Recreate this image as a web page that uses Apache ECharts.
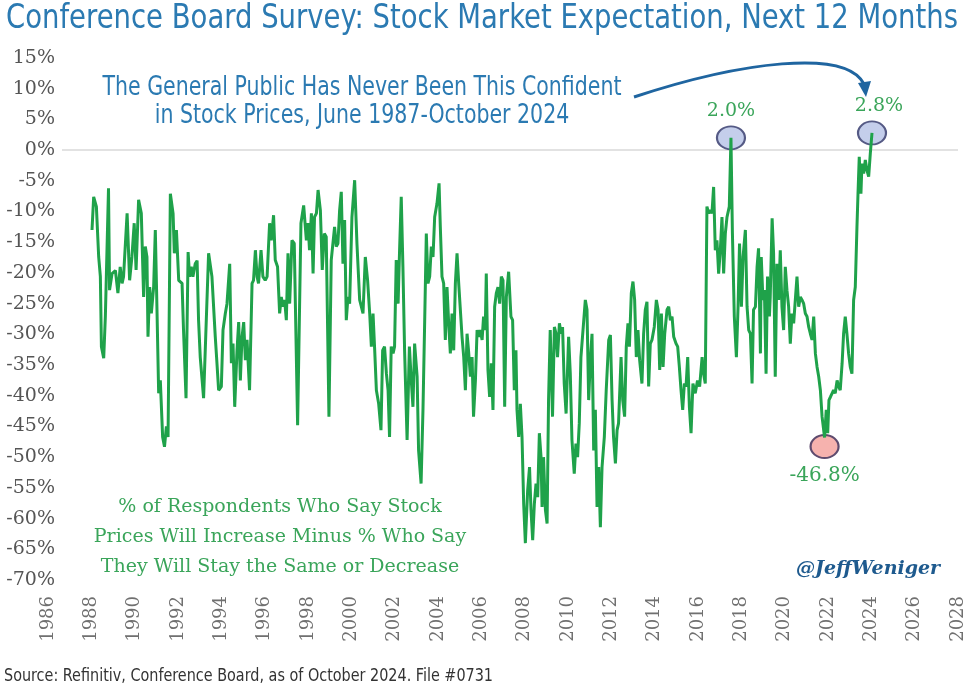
<!DOCTYPE html>
<html><head><meta charset="utf-8">
<script src="https://cdn.jsdelivr.net/npm/echarts@6/dist/echarts.min.js"></script>
<style>html,body{margin:0;padding:0;background:#fff}#c{width:975px;height:686px}</style>
</head><body><div id="c"></div>
<script>
// Survey month (decimal year), June 1987 - October 2024
const dates = [1987.42,1987.50,1987.63,1987.74,1987.82,1987.87,1987.98,1988.06,1988.21,1988.26,1988.38,1988.54,1988.66,1988.77,1988.86,1988.93,1989.10,1989.22,1989.33,1989.44,1989.53,1989.65,1989.78,1989.89,1989.97,1990.05,1990.10,1990.18,1990.26,1990.37,1990.45,1990.53,1990.61,1990.69,1990.80,1990.89,1990.98,1991.06,1991.17,1991.30,1991.36,1991.46,1991.57,1991.73,1991.80,1991.92,1992.02,1992.09,1992.17,1992.25,1992.36,1992.45,1992.52,1992.60,1992.76,1992.84,1993.00,1993.16,1993.32,1993.40,1993.48,1993.61,1993.69,1993.80,1993.88,1994.01,1994.09,1994.17,1994.25,1994.36,1994.44,1994.52,1994.60,1994.68,1994.76,1994.84,1994.96,1995.08,1995.15,1995.24,1995.32,1995.39,1995.51,1995.60,1995.71,1995.80,1995.92,1996.00,1996.11,1996.19,1996.30,1996.40,1996.48,1996.56,1996.64,1996.72,1996.80,1996.88,1996.99,1997.10,1997.26,1997.42,1997.55,1997.68,1997.76,1997.83,1997.92,1998.00,1998.07,1998.16,1998.24,1998.35,1998.44,1998.54,1998.63,1998.76,1998.87,1998.95,1999.03,1999.11,1999.19,1999.27,1999.35,1999.43,1999.51,1999.59,1999.67,1999.75,1999.86,1999.99,2000.10,2000.23,2000.39,2000.50,2000.61,2000.71,2000.79,2000.87,2000.95,2001.03,2001.14,2001.25,2001.33,2001.42,2001.51,2001.59,2001.66,2001.74,2001.83,2001.90,2001.98,2002.07,2002.14,2002.22,2002.30,2002.38,2002.50,2002.61,2002.70,2002.78,2002.86,2002.98,2003.05,2003.17,2003.26,2003.34,2003.42,2003.50,2003.58,2003.66,2003.74,2003.82,2003.93,2004.03,2004.09,2004.17,2004.25,2004.33,2004.41,2004.49,2004.57,2004.65,2004.73,2004.81,2004.89,2004.97,2005.05,2005.13,2005.21,2005.29,2005.37,2005.44,2005.53,2005.61,2005.68,2005.77,2005.85,2005.92,2006.00,2006.09,2006.16,2006.24,2006.29,2006.37,2006.45,2006.53,2006.61,2006.69,2006.77,2006.85,2006.93,2007.01,2007.09,2007.17,2007.25,2007.36,2007.47,2007.55,2007.63,2007.71,2007.76,2007.84,2007.92,2008.00,2008.08,2008.16,2008.27,2008.36,2008.43,2008.51,2008.59,2008.67,2008.75,2008.83,2008.91,2008.96,2009.03,2009.12,2009.20,2009.27,2009.35,2009.46,2009.55,2009.63,2009.70,2009.79,2009.87,2009.94,2010.02,2010.11,2010.23,2010.31,2010.39,2010.50,2010.58,2010.66,2010.74,2010.82,2010.90,2011.03,2011.11,2011.19,2011.27,2011.35,2011.43,2011.51,2011.59,2011.67,2011.75,2011.83,2011.94,2012.03,2012.15,2012.23,2012.31,2012.38,2012.47,2012.55,2012.62,2012.74,2012.82,2012.91,2012.99,2013.07,2013.14,2013.23,2013.31,2013.39,2013.47,2013.55,2013.63,2013.74,2013.82,2013.90,2013.98,2014.06,2014.14,2014.22,2014.33,2014.43,2014.51,2014.59,2014.67,2014.75,2014.83,2014.94,2015.02,2015.10,2015.18,2015.26,2015.37,2015.45,2015.53,2015.61,2015.69,2015.77,2015.85,2015.93,2016.01,2016.09,2016.18,2016.29,2016.40,2016.50,2016.62,2016.69,2016.77,2016.85,2016.93,2017.01,2017.09,2017.17,2017.25,2017.33,2017.41,2017.49,2017.57,2017.65,2017.73,2017.81,2017.92,2018.00,2018.07,2018.16,2018.26,2018.34,2018.41,2018.50,2018.58,2018.69,2018.77,2018.85,2018.93,2019.01,2019.08,2019.17,2019.25,2019.32,2019.41,2019.45,2019.53,2019.60,2019.68,2019.75,2019.84,2019.88,2019.97,2020.04,2020.12,2020.20,2020.28,2020.36,2020.44,2020.52,2020.60,2020.68,2020.76,2020.84,2020.92,2021.00,2021.08,2021.16,2021.24,2021.32,2021.40,2021.48,2021.56,2021.64,2021.72,2021.80,2021.88,2021.96,2022.04,2022.12,2022.20,2022.28,2022.36,2022.48,2022.56,2022.63,2022.69,2022.76,2022.84,2022.91,2022.99,2023.08,2023.15,2023.23,2023.32,2023.39,2023.47,2023.55,2023.63,2023.71,2023.79,2023.87,2023.95,2024.03,2024.08,2024.14,2024.22,2024.27,2024.35,2024.43,2024.51,2024.59,2024.67,2024.75];

// % saying prices will increase minus % saying same or decrease
const values = [
-13.0,-7.6,-9.2,-17.4,-20.6,-32.0,-33.9,-27.0,-6.2,-22.8,
-20.1,-19.6,-23.3,-19.0,-21.7,-20.6,-10.3,-21.2,-17.4,-11.9,
-19.5,-8.1,-10.3,-23.9,-15.7,-17.4,-30.4,-22.3,-26.6,-22.3,
-13.0,-26.0,-39.6,-37.5,-46.7,-48.3,-45.0,-46.7,-7.1,-10.3,
-16.8,-13.0,-21.2,-21.7,-29.3,-40.4,-16.6,-20.6,-19.0,-20.6,
-18.5,-18.0,-27.7,-33.7,-40.4,-32.6,-16.8,-20.6,-30.4,-34.7,
-39.1,-38.5,-29.3,-26.6,-25.0,-18.5,-34.7,-31.5,-41.8,-32.6,
-28.0,-37.5,-30.4,-28.0,-34.2,-30.9,-39.1,-21.7,-21.2,-16.3,
-20.6,-21.7,-16.3,-20.6,-21.2,-20.6,-11.9,-14.7,-10.6,-17.9,
-19.0,-26.6,-23.9,-25.5,-24.4,-27.7,-16.8,-25.0,-14.7,-15.2,
-44.8,-11.9,-9.0,-14.7,-11.9,-16.3,-10.3,-20.1,-10.9,-10.3,
-6.5,-9.8,-19.5,-13.6,-14.1,-43.4,-17.9,-15.2,-12.5,-15.7,
-15.2,-9.8,-6.8,-18.5,-11.4,-27.7,-23.9,-25.0,-10.9,-4.9,
-15.2,-24.4,-26.6,-17.4,-21.2,-26.6,-32.0,-26.6,-32.6,-39.1,
-41.3,-45.6,-32.6,-32.0,-36.4,-39.1,-46.7,-32.0,-33.1,-32.0,
-17.9,-25.0,-16.3,-7.6,-19.0,-32.6,-47.2,-32.0,-37.5,-41.8,
-31.5,-36.9,-48.9,-54.3,-42.3,-28.2,-13.6,-21.7,-20.6,-15.7,
-17.4,-10.9,-8.7,-5.4,-12.5,-20.6,-21.7,-30.9,-22.3,-28.2,
-33.1,-26.6,-32.6,-21.7,-16.8,-21.7,-21.7,-30.4,-33.7,-39.1,
-29.9,-32.6,-36.9,-33.7,-43.4,-37.5,-29.3,-30.4,-29.3,-30.9,
-27.1,-29.3,-20.1,-35.8,-40.2,-34.7,-42.3,-25.5,-23.3,-22.3,
-25.0,-20.6,-21.2,-41.8,-23.9,-19.8,-27.1,-27.7,-39.1,-32.6,
-42.3,-46.7,-41.3,-46.7,-57.6,-64.0,-55.4,-51.6,-58.6,-63.5,
-57.6,-54.3,-56.5,-46.1,-50.0,-58.1,-50.0,-58.6,-60.8,-40.7,
-29.3,-43.4,-28.8,-29.9,-33.7,-28.2,-29.9,-28.8,-38.0,-42.9,
-30.4,-36.4,-47.2,-52.7,-47.8,-50.0,-44.5,-33.7,-33.7,-24.4,
-26.0,-40.7,-34.2,-29.9,-48.9,-42.3,-58.1,-51.6,-61.4,-51.6,
-46.7,-39.1,-30.9,-30.1,-40.7,-46.7,-51.0,-45.6,-44.5,-33.7,
-40.7,-43.4,-32.0,-28.2,-32.0,-23.3,-21.4,-24.4,-33.7,-29.3,
-34.2,-38.0,-29.9,-26.0,-24.7,-38.5,-31.5,-30.9,-28.8,-24.4,
-26.0,-35.8,-26.6,-35.3,-29.9,-26.0,-25.5,-27.7,-27.1,-30.4,
-31.5,-32.0,-35.3,-39.1,-42.3,-38.0,-38.5,-33.7,-41.8,-46.1,
-38.0,-39.6,-37.5,-38.5,-33.7,-36.4,-38.0,-9.2,-10.3,-9.8,
-10.3,-6.0,-16.3,-14.7,-20.1,-16.3,-10.9,-20.1,-13.6,-10.9,
-9.2,2.0,-13.6,-27.1,-33.7,-25.5,-15.2,-25.5,-17.4,-13.0,
-25.5,-29.3,-29.9,-38.0,-26.0,-25.5,-19.0,-16.0,-33.1,-17.4,
-24.4,-22.8,-36.4,-20.6,-27.1,-23.9,-11.1,-16.8,-36.9,-18.5,
-24.4,-16.3,-25.5,-29.3,-19.0,-22.8,-25.5,-31.5,-26.6,-28.2,
-24.4,-20.6,-25.5,-23.9,-24.4,-25.0,-26.6,-27.1,-28.8,-29.9,
-30.9,-27.1,-33.1,-35.3,-36.9,-39.1,-43.4,-46.8,-42.3,-46.1,
-40.7,-40.2,-39.6,-39.1,-39.6,-37.5,-38.5,-39.1,-34.7,-29.9,
-27.1,-29.9,-33.1,-35.3,-36.4,-24.4,-22.3,-12.5,-7.1,-1.1,
-7.1,-2.2,-3.8,-1.6,-3.3,-4.3,-0.5,2.8];

const yearAxis = {min: 1986, max: 2028, step: 2};
const pctAxis = {min: -70, max: 15, step: 5};

const titleText = 'Conference Board Survey: Stock Market Expectation, Next 12 Months';
const noteLines = ['The General Public Has Never Been This Confident', 'in Stock Prices, June 1987-October 2024'];
const defLines = ['% of Respondents Who Say Stock', 'Prices Will Increase Minus % Who Say', 'They Will Stay the Same or Decrease'];
const handle = '@JeffWeniger';
const sourceText = 'Source: Refinitiv, Conference Board, as of October 2024. File #0731';

const n = Math.min(dates.length, values.length);
const pts = [];
for (let i = 0; i < n; i++) pts.push([dates[i], values[i]]);

// highlighted points: peak before 2020, final value, trough after 2020
let iPeak = 0, iLow = -1;
for (let i = 0; i < n; i++) {
  if (dates[i] < 2020 && values[i] > values[iPeak]) iPeak = i;
  if (dates[i] > 2020 && (iLow < 0 || values[i] < values[iLow])) iLow = i;
}
const iLast = n - 1;

const GREEN = '#1fa24a';
const LBL_GREEN = '#3aa55a';
const BLUE = '#2b7ab2';
const SERIF = "'DejaVu Serif', serif";
const NARROW = "'Liberation Sans Narrow', 'DejaVu Sans Condensed', sans-serif";

// horizontal squeeze so condensed text fills its width
const measureCtx = document.createElement('canvas').getContext('2d');
function squeeze(text, font, width) {
  measureCtx.font = font;
  return width / measureCtx.measureText(text).width;
}
const titleFont = '34px ' + NARROW;
const noteFont = '26px ' + NARROW;
const srcFont = '18px ' + NARROW;
const titleScale = squeeze(titleText, titleFont, 952);
const noteScale = squeeze(noteLines[0], noteFont, 519);
const srcScale = squeeze(sourceText, srcFont, 489);

// split line only at 0%
const tickCount = (pctAxis.max - pctAxis.min) / pctAxis.step + 1;
const splitColors = [];
for (let i = 0; i < tickCount; i++) {
  splitColors.push(pctAxis.min + i * pctAxis.step === 0 ? '#d9d9d9' : 'rgba(0,0,0,0)');
}

const chart = echarts.init(document.getElementById('c'), null, {renderer: 'canvas'});
const fmt = v => v.toFixed(1) + '%';

chart.setOption({
  animation: false,
  backgroundColor: '#ffffff',
  grid: [
    {left: 48, right: 17, top: 58, bottom: 106},
    {left: 92, right: 103, top: 58, bottom: 106},
    {left: 62, right: 17, top: 58, bottom: 106}
  ],
  xAxis: [
    {gridIndex: 0, type: 'value', min: yearAxis.min, max: yearAxis.max, interval: yearAxis.step,
     axisLine: {show: false}, axisTick: {show: false}, splitLine: {show: false},
     axisLabel: {rotate: 90, margin: 16, formatter: v => String(v), fontFamily: SERIF, fontSize: 18, color: '#707070'}},
    {gridIndex: 1, type: 'value', min: dates[0], max: dates[n - 1], show: false},
    {gridIndex: 2, type: 'value', min: 0, max: 1, show: false}
  ],
  yAxis: [
    {gridIndex: 0, type: 'value', min: pctAxis.min, max: pctAxis.max, show: false},
    {gridIndex: 1, type: 'value', min: pctAxis.min, max: pctAxis.max, show: false},
    {gridIndex: 2, type: 'value', min: pctAxis.min, max: pctAxis.max, interval: pctAxis.step,
     axisLine: {show: false}, axisTick: {show: false},
     axisLabel: {margin: 7, formatter: '{value}%', fontFamily: SERIF, fontSize: 19, color: '#555'},
     splitLine: {show: true, lineStyle: {color: splitColors, width: 1.5}}}
  ],
  series: [{
    type: 'line', xAxisIndex: 1, yAxisIndex: 1, data: pts,
    symbol: 'none', lineStyle: {color: GREEN, width: 3}, z: 3,
    markPoint: {
      symbol: 'circle',
      symbolSize: [28, 23],
      z: 2,
      label: {fontFamily: SERIF, fontSize: 19, color: LBL_GREEN},
      data: [
        {coord: pts[iPeak], value: values[iPeak],
         itemStyle: {color: 'rgba(176,190,228,0.75)', borderColor: '#555a85', borderWidth: 2},
         label: {position: 'top', distance: 5, formatter: () => fmt(values[iPeak])}},
        {coord: pts[iLast], value: values[iLast],
         itemStyle: {color: 'rgba(176,190,228,0.75)', borderColor: '#555a85', borderWidth: 2},
         label: {position: 'top', distance: 5, offset: [7, 0], formatter: () => fmt(values[iLast])}},
        {coord: pts[iLow], value: values[iLow], symbolOffset: [0, 9],
         itemStyle: {color: 'rgba(244,165,160,0.85)', borderColor: '#5e4b6e', borderWidth: 2},
         label: {position: 'bottom', distance: 7, fontSize: 20, formatter: () => fmt(values[iLow])}}
      ]
    }
  }],
  graphic: [
    {type: 'text', x: 482, y: 2, scaleX: titleScale,
     style: {text: titleText, font: titleFont, fill: BLUE, align: 'center'}},
    {type: 'text', x: 362, y: 74, scaleX: noteScale,
     style: {text: noteLines.join('\n'), font: noteFont, fill: BLUE, align: 'center', lineHeight: 28}},
    {type: 'bezierCurve', shape: {x1: 634, y1: 97, cpx1: 740, cpy1: 62, cpx2: 846, cpy2: 48, x2: 864, y2: 84},
     style: {stroke: '#1f65a0', lineWidth: 3, fill: null}},
    {type: 'polygon', shape: {points: [[866, 97], [858, 83], [871, 81]]}, style: {fill: '#1f65a0'}},
    {type: 'text', x: 280, y: 492, style: {text: defLines.join('\n'), font: '19px ' + SERIF, fill: LBL_GREEN, align: 'center', lineHeight: 30}},
    {type: 'text', x: 868, y: 560, style: {text: handle, font: 'italic bold 19px ' + SERIF, fill: '#1e5a8e', align: 'center'}},
    {type: 'text', x: 4, y: 667, scaleX: srcScale, style: {text: sourceText, font: srcFont, fill: '#333'}}
  ]
});
</script>
</body></html>
